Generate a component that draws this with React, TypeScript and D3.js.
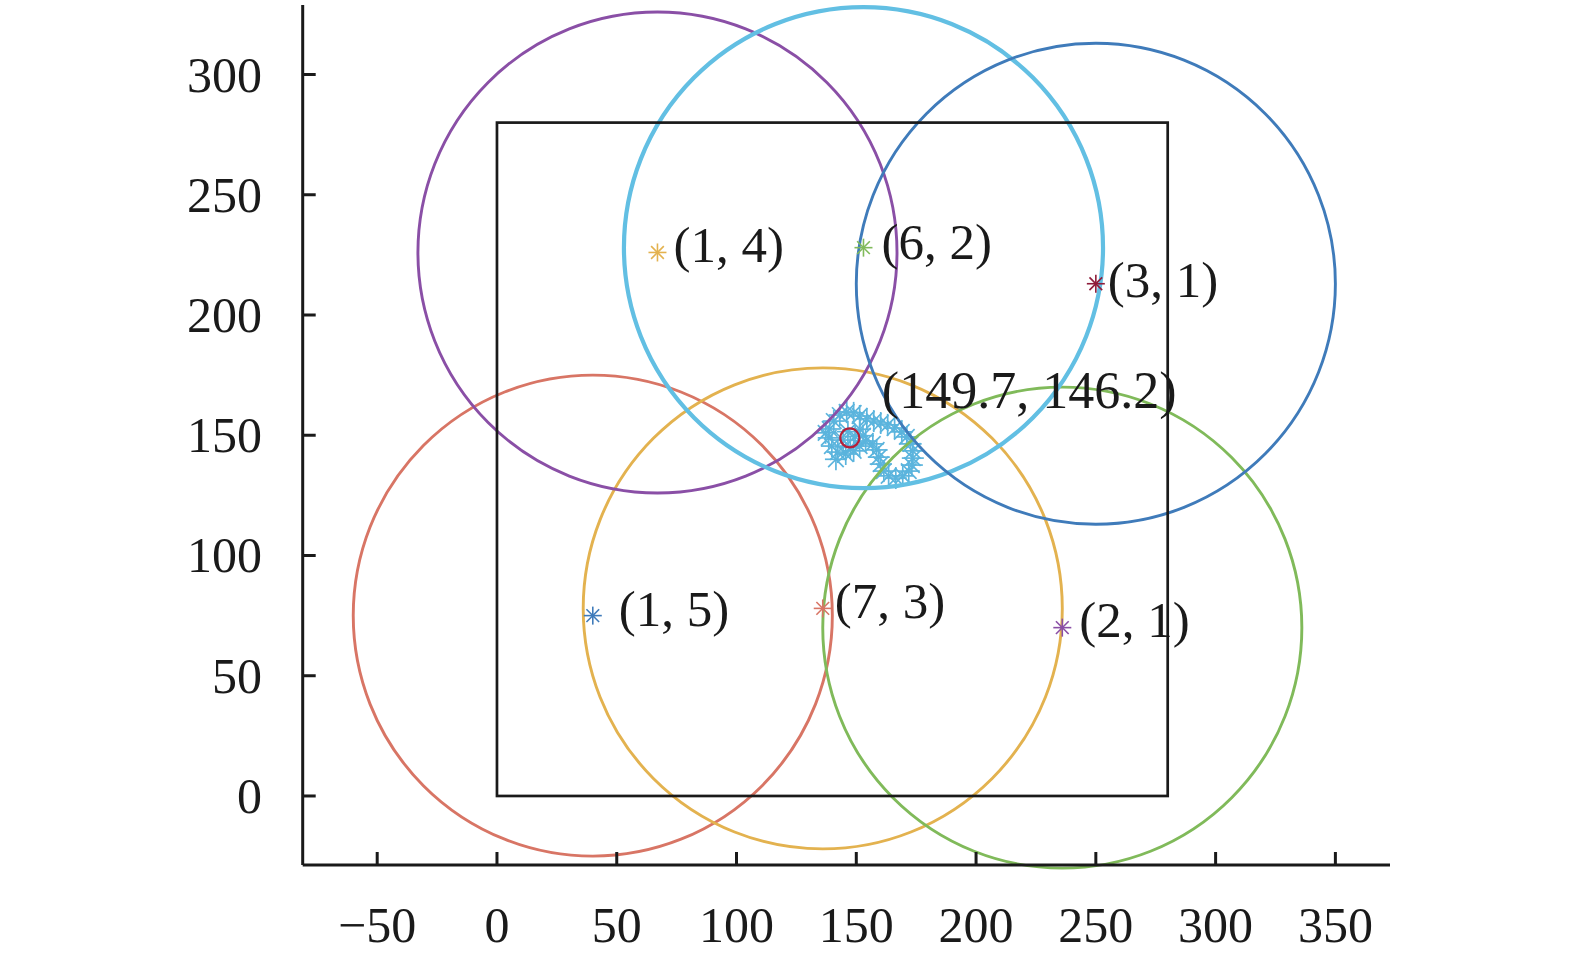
import * as d3 from 'd3'

// anchor nodes (data units), circle radius 100
const anchorX = [40, 136, 236, 67, 153, 250]
const anchorY = [75, 78, 70, 226, 228, 213]
const anchorR = [100, 100, 100, 100, 100, 100]
const anchorLabels = ['(1, 5)', '(7, 3)', '(2, 1)', '(1, 4)', '(6, 2)', '(3, 1)']
const circleColors = ['#D87565', '#E3B24F', '#80BA5A', '#8A4FA6', '#62BFE3', '#3F7BBA']
const markerColors = ['#3F7BBA', '#D87565', '#8A4FA6', '#E3B24F', '#80BA5A', '#8E1C3A']
const labelDx = [26, 12, 17, 16, 18, 12]
const labelDy = [10, 10, 9, 10, 11, 13]

// estimated trajectory
const trackX = [
  153.9, 151.4, 148.9, 145.6, 142.3, 139.8, 138.5, 138.9, 140.6, 143.1, 146.0,
  148.9, 151.4, 154.4, 157.3, 160.2, 163.1, 166.0, 169.0, 171.1, 172.7, 173.6,
  173.6, 173.2, 171.9, 169.4, 166.5, 163.5, 161.5, 160.2, 159.4, 158.5, 156.9,
  146.5, 149.5, 151.5, 144.5, 147.5, 152.8, 141.5, 137.2,
]
const trackY = [
  147.6, 145.5, 143.5, 142.2, 143.0, 145.5, 148.9, 152.6, 155.9, 158.4, 159.7,
  159.3, 158.0, 156.8, 155.9, 155.1, 154.3, 153.0, 151.4, 149.3, 146.4, 143.5,
  140.5, 137.6, 135.1, 133.1, 132.2, 133.1, 135.1, 138.0, 140.9, 143.9, 146.4,
  151.5, 149.5, 152.5, 148.0, 145.0, 149.8, 140.0, 151.0,
]

const estimate = { x: 147.3, y: 148.9, label: '(149.7, 146.2)' }
const areaSide = 280

const xTicks = [-50, 0, 50, 100, 150, 200, 250, 300, 350]
const yTicks = [0, 50, 100, 150, 200, 250, 300]

const W = 1575
const H = 964
const font = '"Liberation Serif", "Times New Roman", serif'

function Asterisk({ cx, cy, color, s = 9, w = 1.6 }: { cx: number; cy: number; color: string; s?: number; w?: number }) {
  const d = s * Math.SQRT1_2
  return (
    <g stroke={color} strokeWidth={w}>
      <line x1={cx - s} y1={cy} x2={cx + s} y2={cy} />
      <line x1={cx} y1={cy - s} x2={cx} y2={cy + s} />
      <line x1={cx - d} y1={cy - d} x2={cx + d} y2={cy + d} />
      <line x1={cx - d} y1={cy + d} x2={cx + d} y2={cy - d} />
    </g>
  )
}

export default function App() {
  const x = d3.scaleLinear().domain([-81.1, 372.8]).range([302.7, 1390])
  const y = d3.scaleLinear().domain([-28.7, 328.9]).range([865, 5])
  const axisColor = '#1a1a1a'

  return (
    <svg
      width={W}
      height={H}
      style={{ position: 'absolute', left: 0, top: 0, background: '#fff' }}
      fontFamily={font}
    >
      {/* trajectory */}
      {trackX.map((tx, i) => (
        <Asterisk key={'t' + i} cx={x(tx)} cy={y(trackY[i])} color="#5BB4DD" s={11} w={1.7} />
      ))}

      {/* coverage circles */}
      {anchorX.map((ax, i) => (
        <ellipse
          key={'c' + i}
          cx={x(ax)}
          cy={y(anchorY[i])}
          rx={x(anchorR[i]) - x(0)}
          ry={y(0) - y(anchorR[i])}
          fill="none"
          stroke={circleColors[i]}
          strokeWidth={i === 4 ? 4.2 : 2.9}
        />
      ))}

      {/* monitoring area */}
      <rect
        x={x(0)}
        y={y(areaSide)}
        width={x(areaSide) - x(0)}
        height={y(0) - y(areaSide)}
        fill="none"
        stroke={axisColor}
        strokeWidth={2.7}
      />

      {/* anchors */}
      {anchorX.map((ax, i) => (
        <Asterisk key={'m' + i} cx={x(ax)} cy={y(anchorY[i])} color={markerColors[i]} />
      ))}

      {/* estimate */}
      <circle cx={x(estimate.x)} cy={y(estimate.y)} r={9.5} fill="none" stroke="#B5203A" strokeWidth={2.2} />

      {/* labels */}
      <g fontSize={51} fill="#1a1a1a">
        {anchorX.map((ax, i) => (
          <text key={'l' + i} x={x(ax) + labelDx[i]} y={y(anchorY[i]) + labelDy[i]}>
            {anchorLabels[i]}
          </text>
        ))}
        <text x={x(estimate.x) + 32} y={y(estimate.y) - 30} fontSize={52}>
          {estimate.label}
        </text>
      </g>

      {/* axes */}
      <g stroke={axisColor} strokeWidth={3}>
        <line x1={x.range()[0]} y1={y.range()[0]} x2={x.range()[1]} y2={y.range()[0]} />
        <line x1={x.range()[0]} y1={y.range()[0]} x2={x.range()[0]} y2={y.range()[1]} />
        {xTicks.map(t => (
          <line key={'xt' + t} x1={x(t)} x2={x(t)} y1={y.range()[0]} y2={y.range()[0] - 13} />
        ))}
        {yTicks.map(t => (
          <line key={'yt' + t} x1={x.range()[0]} x2={x.range()[0] + 13} y1={y(t)} y2={y(t)} />
        ))}
      </g>
      <g fontSize={50} fill="#1a1a1a">
        {xTicks.map(t => (
          <text key={'xl' + t} x={x(t)} y={942} textAnchor="middle">
            {t < 0 ? '\u2212' + Math.abs(t) : String(t)}
          </text>
        ))}
        {yTicks.map(t => (
          <text key={'yl' + t} x={262} y={y(t) + 17} textAnchor="end">
            {String(t)}
          </text>
        ))}
      </g>
    </svg>
  )
}
